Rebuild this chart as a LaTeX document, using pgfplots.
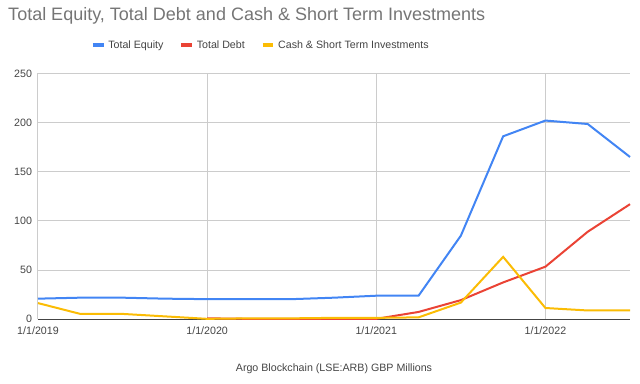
\documentclass[border=0pt]{standalone}
\usepackage{pgfplots}
\pgfplotsset{compat=1.18}
\usepackage{fontspec}
\setmainfont{Liberation Sans}
\definecolor{cblue}{HTML}{4285F4}
\definecolor{cred}{HTML}{EA4335}
\definecolor{cyel}{HTML}{FBBC04}
\definecolor{tgray}{HTML}{757575}
\definecolor{lgray}{HTML}{444444}
\definecolor{ggray}{HTML}{CCCCCC}
\begin{document}
\begin{tikzpicture}[x=1pt,y=1pt]
\path[use as bounding box] (-28.5,-48.5) rectangle (451.5,239.5);
\begin{axis}[
  at={(0,0)}, anchor=south west,
  scale only axis, width=444pt, height=184.5pt,
  xmin=0, xmax=14, ymin=0, ymax=250,
  xtick={0,4,8,12},
  xticklabels={1/1/2019,1/1/2020,1/1/2021,1/1/2022},
  ytick={0,50,100,150,200,250},
  /pgf/number format/assume math mode=true,
  ticklabel style={font=\fontsize{8}{9}\selectfont, text=lgray},
  yticklabel style={xshift=-1pt},
  xticklabel style={yshift=-2pt},
  xmajorgrids, ymajorgrids,
  grid style={ggray, line width=0.75pt},
  major tick length=0pt,
  axis x line*=bottom, axis y line*=left,
  y axis line style={draw=none},
  x axis line style={-, draw=lgray, line width=0.75pt},
  xlabel={Argo Blockchain (LSE:ARB) GBP Millions},
  xlabel style={font=\fontsize{8}{9}\selectfont, text=lgray, at={(axis description cs:0.5,-0.2)}, anchor=center},
  legend style={draw=none, at={(axis description cs:0.377,1.114)}, anchor=center,
    legend columns=-1, font=\fontsize{8}{9}\selectfont, text=lgray,
    /tikz/every even column/.append style={column sep=10pt}},
  legend image code/.code={\draw[#1, line width=3pt] (0pt,0pt) -- (8pt,0pt);},
  clip=false,
]
\addplot[cblue, line width=1.5pt] coordinates {
(0,21) (1,22) (2,22) (3,21) (4,20.5) (5,20.5) (6,20.5) (7,22) (8,24) (9,24) (10,85) (11,186) (12,202) (13,198.5) (14,165)};
\addlegendentry{Total Equity}
\addplot[cred, line width=1.5pt] coordinates {
(4,1) (5,0.5) (6,0.5) (7,0.5) (8,0.5) (9,7.5) (10,19.5) (11,37.5) (12,53.5) (13,89) (14,117)};
\addlegendentry{Total Debt}
\addplot[cyel, line width=1.5pt] coordinates {
(0,16.5) (1,5.5) (2,5.5) (3,3) (4,0.5) (5,1) (6,1) (7,1.5) (8,1.5) (9,2) (10,17) (11,63.5) (12,11.5) (13,9) (14,9)};
\addlegendentry{Cash \& Short Term Investments}
\node[anchor=west, text=tgray, font=\fontsize{13.5}{15}\selectfont, inner sep=0pt] at (axis description cs:-0.0507,1.232) {Total Equity, Total Debt and Cash \& Short Term Investments};
\end{axis}
\end{tikzpicture}
\end{document}
